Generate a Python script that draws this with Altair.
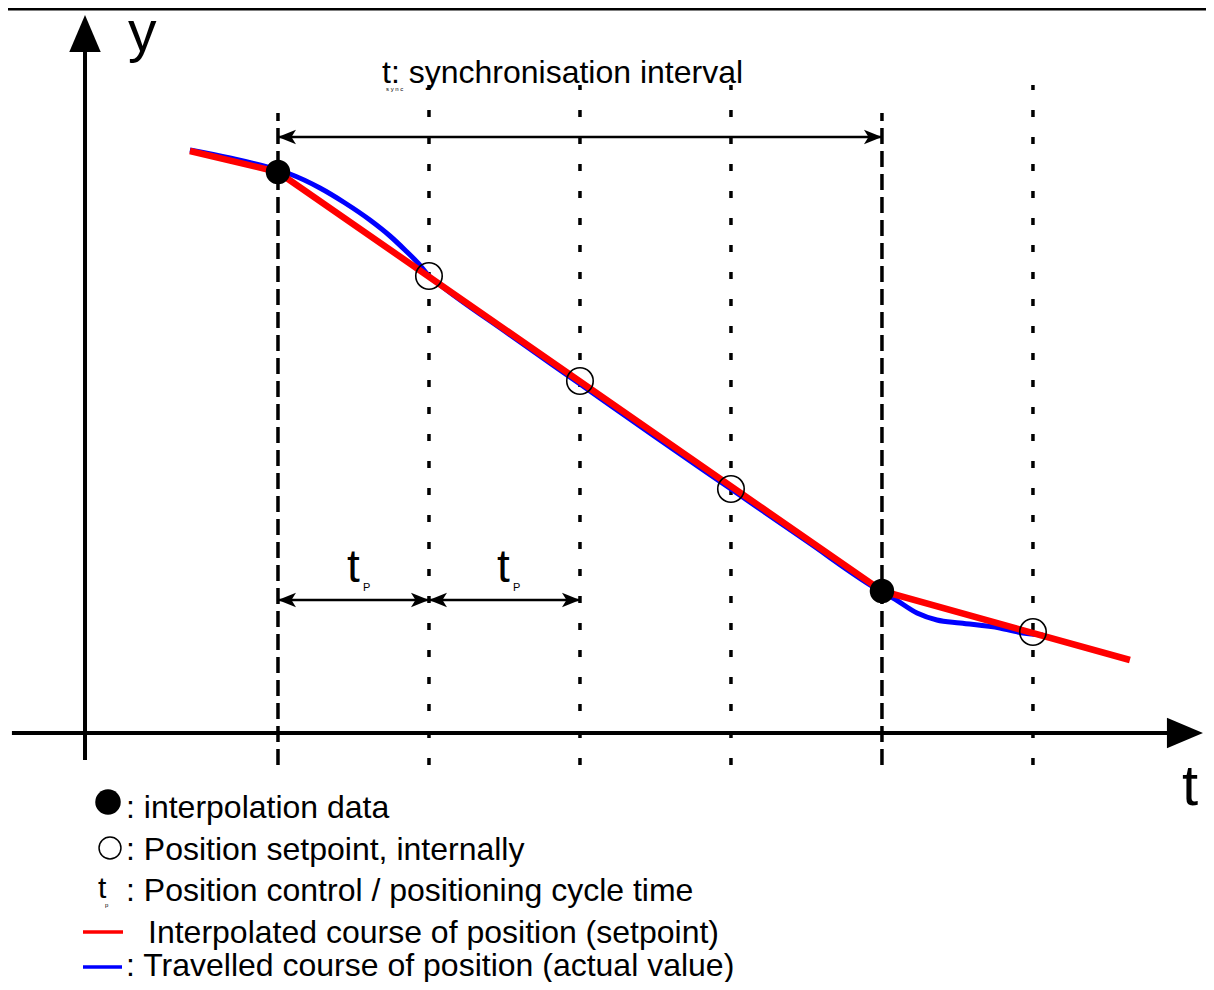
import altair as alt
import pandas as pd

FONT = "Liberation Sans"

# --- data (t in units of the position cycle time tP, y in position units) ---
red_t = [-0.583, 0.0, 4.0, 5.642]
red_y = [5.82, 5.61, 1.42, 0.73]

blue_t = [-0.583, -0.318, 0.0, 0.079, 0.278, 0.444, 0.609, 0.742, 0.841, 0.927, 1.0,
          1.1, 1.5, 2.0, 2.5, 3.0, 3.5, 4.0, 4.073, 4.232, 4.364, 4.517, 4.781, 4.934, 5.066]
blue_y = [5.83, 5.75, 5.63, 5.59, 5.45, 5.30, 5.13, 4.97, 4.83, 4.70, 4.57,
          4.45, 4.02, 3.49, 2.96, 2.44, 1.92, 1.41, 1.35, 1.20, 1.13, 1.10, 1.05, 1.00, 0.98]

interp_t = [0.0, 4.0]
interp_y = [5.61, 1.42]

setp_t = [1.0, 2.0, 3.0, 5.0]
setp_y = [4.57, 3.52, 2.44, 1.01]

dashed_t = [0.0, 4.0]
dotted_t = [1.0, 2.0, 3.0, 5.0]
vline_y_bottom = -0.32
dashed_top = 6.20
dotted_top = 6.48

sync_y = 5.96
tp_y = 1.33
tp_from = [0.0, 1.0]
tp_to = [1.0, 2.0]

axis_x_from, axis_x_to = -1.762, 5.97
axis_y_t = -1.278
axis_y_from, axis_y_to = -0.27, 6.85
frame_y = 7.24

legend_texts = [": interpolation data", ": Position setpoint, internally",
                ": Position control / positioning cycle time",
                "Interpolated course of position (setpoint)",
                ": Travelled course of position (actual value)"]

XS = alt.Scale(domain=[-1.788, 6.146], nice=False, zero=False)
YS = alt.Scale(domain=[-2.49, 7.25], nice=False, zero=False)
X = lambda f="t": alt.X(f"{f}:Q", scale=XS, axis=None)
Y = lambda f="y": alt.Y(f"{f}:Q", scale=YS, axis=None)

red = pd.DataFrame({"t": red_t, "y": red_y})
blue = pd.DataFrame({"t": blue_t, "y": blue_y})
interp = pd.DataFrame({"t": interp_t, "y": interp_y})
setp = pd.DataFrame({"t": setp_t, "y": setp_y})

layers = []

# frame line at top
layers.append(alt.Chart(pd.DataFrame({"t": [-1.8], "t2": [6.2], "y": [frame_y]}))
              .mark_rule(color="black", strokeWidth=3)
              .encode(x=X(), x2="t2:Q", y=Y()))

# vertical dashed / dotted lines
dl = pd.DataFrame({"t": dashed_t, "y": [vline_y_bottom] * 2, "y2": [dashed_top] * 2})
layers.append(alt.Chart(dl).mark_rule(color="black", strokeWidth=3.5, strokeDash=[16, 7])
              .encode(x=X(), y=Y(), y2="y2:Q"))
dt = pd.DataFrame({"t": dotted_t, "y": [vline_y_bottom] * 4, "y2": [dotted_top] * 4})
layers.append(alt.Chart(dt).mark_rule(color="black", strokeWidth=3.5, strokeDash=[7, 20])
              .encode(x=X(), y=Y(), y2="y2:Q"))

# axes
layers.append(alt.Chart(pd.DataFrame({"t": [axis_x_from], "t2": [axis_x_to], "y": [0.0]}))
              .mark_rule(color="black", strokeWidth=4).encode(x=X(), x2="t2:Q", y=Y()))
layers.append(alt.Chart(pd.DataFrame({"t": [axis_y_t], "y": [axis_y_from], "y2": [axis_y_to]}))
              .mark_rule(color="black", strokeWidth=4).encode(x=X(), y=Y(), y2="y2:Q"))
layers.append(alt.Chart(pd.DataFrame({"t": [6.126], "y": [0.0]}))
              .mark_point(shape="M0,0 L-2,-0.85 L-2,0.85 Z", size=1300, filled=True,
                          color="black", opacity=1, strokeWidth=0)
              .encode(x=X(), y=Y()))
layers.append(alt.Chart(pd.DataFrame({"t": [axis_y_t], "y": [7.18]}))
              .mark_point(shape="M0,0 L-0.85,2 L0.85,2 Z", size=1369, filled=True,
                          color="black", opacity=1, strokeWidth=0)
              .encode(x=X(), y=Y()))

# interval arrows
arr = pd.DataFrame({"t": [0.0] + tp_from, "t2": [4.0] + tp_to, "y": [sync_y, tp_y, tp_y]})
layers.append(alt.Chart(arr).mark_rule(color="black", strokeWidth=2.5)
              .encode(x=X(), x2="t2:Q", y=Y()))
RIGHT = "M0,0 L-2,-0.8 L-1.5,0 L-2,0.8 Z"
LEFT = "M0,0 L2,-0.8 L1.5,0 L2,0.8 Z"
layers.append(alt.Chart(pd.DataFrame({"t": [4.0] + tp_to, "y": [sync_y, tp_y, tp_y]}))
              .mark_point(shape=RIGHT, size=324, filled=True, color="black", opacity=1, strokeWidth=0)
              .encode(x=X(), y=Y()))
layers.append(alt.Chart(pd.DataFrame({"t": [0.0] + tp_from, "y": [sync_y, tp_y, tp_y]}))
              .mark_point(shape=LEFT, size=324, filled=True, color="black", opacity=1, strokeWidth=0)
              .encode(x=X(), y=Y()))

# curves
layers.append(alt.Chart(blue).mark_line(color="#0000ff", strokeWidth=5, interpolate="monotone")
              .encode(x=X(), y=Y(), order="t:Q"))
layers.append(alt.Chart(red).mark_line(color="#ff0000", strokeWidth=6.5)
              .encode(x=X(), y=Y(), order="t:Q"))

# points
layers.append(alt.Chart(setp).mark_point(shape="circle", size=700, color="black", strokeWidth=1.6,
                                         filled=False, opacity=1)
              .encode(x=X(), y=Y()))
layers.append(alt.Chart(interp).mark_point(shape="circle", size=600, color="black", filled=True,
                                           opacity=1)
              .encode(x=X(), y=Y()))

# --- text annotations (pixel positions inside the plot area) ---
def txt(s, x, y, size, align="left", baseline="middle"):
    return (alt.Chart(pd.DataFrame({"s": [s]})).mark_text(
        font=FONT, fontSize=size, align=align, baseline=baseline, color="black")
        .encode(x=alt.value(x), y=alt.value(y), text="s:N"))

layers.append(txt("y", 120, 43, 57, baseline="alphabetic"))
layers.append(txt("t", 1174, 797, 58, baseline="alphabetic"))
layers.append(txt("t: synchronisation interval", 374, 65, 32))
layers.append(txt("s  y  n  c", 378, 81, 6))
layers.append(txt("t", 339, 560, 46))
layers.append(txt("P", 355, 580, 11))
layers.append(txt("t", 489, 560, 46))
layers.append(txt("P", 505, 580, 11))

# legend
layers.append(alt.Chart(pd.DataFrame({"a": [0]})).mark_point(shape="circle", size=650, filled=True,
                                                               color="black", opacity=1)
              .encode(x=alt.value(100), y=alt.value(794)))
layers.append(alt.Chart(pd.DataFrame({"a": [0]})).mark_point(shape="circle", size=480, filled=False,
                                                               color="black", strokeWidth=1.5, opacity=1)
              .encode(x=alt.value(102), y=alt.value(840)))
layers.append(txt("t", 90, 881, 30))
layers.append(txt("p", 97, 897, 6))
layers.append(alt.Chart(pd.DataFrame({"a": [0]})).mark_rule(color="#ff0000", strokeWidth=3.5)
              .encode(x=alt.value(75), x2=alt.value(115), y=alt.value(924)))
layers.append(alt.Chart(pd.DataFrame({"a": [0]})).mark_rule(color="#0000ff", strokeWidth=3.5)
              .encode(x=alt.value(75), x2=alt.value(114), y=alt.value(959)))
leg_x = [118, 118, 118, 140, 118]
leg_y = [800, 842, 883, 925, 958]
for s, lx, ly in zip(legend_texts, leg_x, leg_y):
    layers.append(txt(s, lx, ly, 32))

chart = (alt.layer(*layers)
         .properties(width=1198, height=974, padding=0, autosize="none")
         .configure_view(stroke=None))

chart.save("out.html", embed_options={"renderer": "svg", "actions": False})
